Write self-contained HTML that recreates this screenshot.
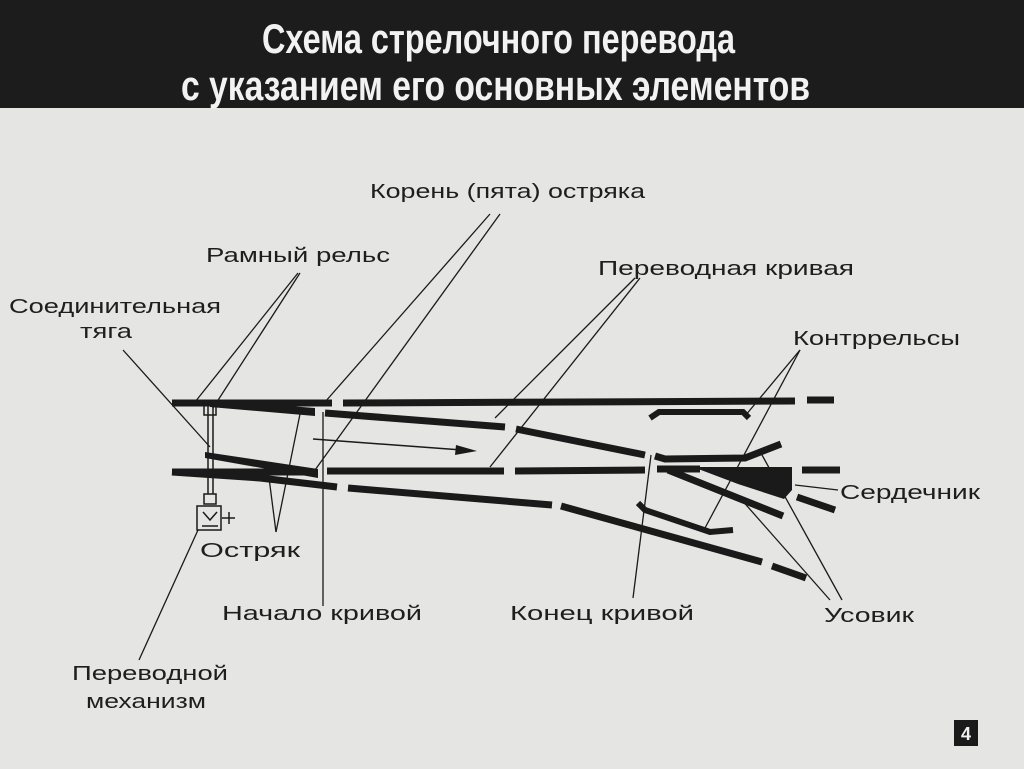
<!DOCTYPE html>
<html><head><meta charset="utf-8"><style>
html,body{margin:0;padding:0;background:#e4e4e2;}
svg{display:block;}
text{font-family:"Liberation Sans",sans-serif;}
</style></head><body>
<svg width="1024" height="769" viewBox="0 0 1024 769" xmlns="http://www.w3.org/2000/svg">
<rect x="0" y="0" width="1024" height="769" fill="#e5e5e3"/>
<rect x="0" y="0" width="1024" height="108" fill="#1c1c1c"/>
<text x="262" y="53" font-size="42" font-weight="bold" fill="#f2f2f2" textLength="473" lengthAdjust="spacingAndGlyphs">Схема  стрелочного  перевода</text>
<text x="181" y="100" font-size="42" font-weight="bold" fill="#f2f2f2" textLength="629" lengthAdjust="spacingAndGlyphs">с  указанием  его  основных  элементов</text>

<g fill="none" stroke="#1a1a1a" stroke-linecap="butt">
<!-- top rail -->
<line x1="172" y1="403" x2="332" y2="403" stroke-width="7"/>
<line x1="343" y1="403" x2="795" y2="401" stroke-width="7"/>
<line x1="807" y1="400" x2="834" y2="400" stroke-width="7"/>
<!-- bottom straight rail -->
<line x1="172" y1="472" x2="315" y2="472" stroke-width="7"/>
<line x1="327" y1="471" x2="504" y2="471" stroke-width="7"/>
<line x1="515" y1="471" x2="645" y2="470" stroke-width="7"/>
<line x1="657" y1="469" x2="700" y2="469" stroke-width="7"/>
<line x1="802" y1="470" x2="840" y2="470" stroke-width="7"/>
<!-- diverging inner curve -->
<line x1="325" y1="413" x2="505" y2="427" stroke-width="7"/>
<line x1="516" y1="429" x2="645" y2="455" stroke-width="7"/>
<polyline points="655,456 665,459 745,458 781,444" stroke-width="7"/>
<!-- outer diverging rail -->
<polyline points="172,472 260,478 337,487" stroke-width="7"/>
<line x1="348" y1="488" x2="552" y2="505" stroke-width="7"/>
<line x1="561" y1="506" x2="762" y2="562" stroke-width="7"/>
<line x1="772" y1="566" x2="806" y2="578" stroke-width="7"/>
<!-- frog legs -->
<line x1="668" y1="470" x2="783" y2="516" stroke-width="7"/>
<line x1="797" y1="497" x2="835" y2="510" stroke-width="7"/>
<!-- guard rails -->
<polyline points="650,418 659,412 743,412 749,418" stroke-width="6"/>
<polyline points="638,503 645,510 710,532 733,530" stroke-width="6"/>
</g>
<!-- switch points -->
<polygon points="210,400 315,408 315,416 210,407" fill="#1a1a1a"/>
<polygon points="205,452 318,469 318,478 205,458" fill="#1a1a1a"/>
<!-- frog -->
<polygon points="693,467 792,467 792,490 784,499 738,484" fill="#1a1a1a"/>

<!-- tie rod & mechanism -->
<g stroke="#1a1a1a" fill="none" stroke-width="1.5">
<line x1="208" y1="406" x2="208" y2="494"/>
<line x1="213" y1="406" x2="213" y2="494"/>
<rect x="204" y="405" width="12" height="10"/>
<rect x="204" y="494" width="12" height="10"/>
<rect x="197" y="506" width="24" height="24"/>
<path d="M203 512 L210 520 L217 512 M202 526 L218 526"/>
<line x1="222" y1="518" x2="235" y2="518"/>
<line x1="229" y1="512" x2="229" y2="524"/>
</g>

<!-- arrow -->
<line x1="313" y1="439" x2="462" y2="450" stroke="#1a1a1a" stroke-width="1.5"/>
<polygon points="477,451 456,445 455,455" fill="#1a1a1a"/>

<!-- leader lines -->
<g stroke="#1a1a1a" stroke-width="1.3" fill="none">
<line x1="298" y1="273" x2="195" y2="402"/>
<line x1="300" y1="273" x2="213" y2="408"/>
<line x1="123" y1="350" x2="210" y2="447"/>
<line x1="490" y1="214" x2="325" y2="402"/>
<line x1="500" y1="214" x2="315" y2="470"/>
<line x1="635" y1="278" x2="495" y2="418"/>
<line x1="640" y1="278" x2="490" y2="467"/>
<line x1="800" y1="350" x2="745" y2="416"/>
<line x1="800" y1="350" x2="705" y2="528"/>
<line x1="795" y1="485" x2="838" y2="490"/>
<line x1="762" y1="455" x2="842" y2="600"/>
<line x1="740" y1="498" x2="830" y2="600"/>
<line x1="276" y1="532" x2="268" y2="470"/>
<line x1="276" y1="532" x2="300" y2="414"/>
<line x1="323" y1="412" x2="323" y2="606"/>
<line x1="651" y1="455" x2="633" y2="598"/>
<line x1="139" y1="660" x2="198" y2="530"/>
</g>

<g font-size="20" fill="#1e1e1e">
<text x="370" y="198" textLength="275" lengthAdjust="spacingAndGlyphs">Корень (пята) остряка</text>
<text x="206" y="262" textLength="184" lengthAdjust="spacingAndGlyphs">Рамный рельс</text>
<text x="598" y="275" textLength="256" lengthAdjust="spacingAndGlyphs">Переводная кривая</text>
<text x="9" y="313" textLength="212" lengthAdjust="spacingAndGlyphs">Соединительная</text>
<text x="80" y="338" textLength="52" lengthAdjust="spacingAndGlyphs">тяга</text>
<text x="793" y="345" textLength="167" lengthAdjust="spacingAndGlyphs">Контррельсы</text>
<text x="840" y="499" textLength="140" lengthAdjust="spacingAndGlyphs">Сердечник</text>
<text x="200" y="557" textLength="100" lengthAdjust="spacingAndGlyphs">Остряк</text>
<text x="222" y="620" textLength="200" lengthAdjust="spacingAndGlyphs">Начало кривой</text>
<text x="510" y="620" textLength="184" lengthAdjust="spacingAndGlyphs">Конец кривой</text>
<text x="824" y="622" textLength="90" lengthAdjust="spacingAndGlyphs">Усовик</text>
<text x="72" y="680" textLength="156" lengthAdjust="spacingAndGlyphs">Переводной</text>
<text x="86" y="708" textLength="120" lengthAdjust="spacingAndGlyphs">механизм</text>
</g>
<rect x="954" y="720" width="24" height="26" fill="#1a1a1a"/>
<text x="966" y="740" font-size="18" font-weight="bold" fill="#f0f0f0" text-anchor="middle">4</text>
</svg>
</body></html>
